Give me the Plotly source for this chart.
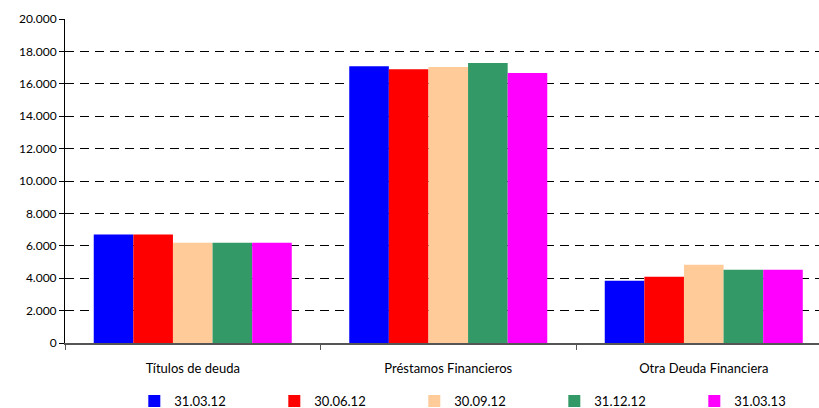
import plotly.graph_objects as go

categories = ["Títulos de deuda", "Préstamos Financieros", "Otra Deuda Financiera"]
series_names = ["31.03.12", "30.06.12", "30.09.12", "31.12.12", "31.03.13"]
s_310312 = [6690, 17090, 3840]
s_300612 = [6690, 16900, 4090]
s_300912 = [6190, 17030, 4830]
s_311212 = [6190, 17280, 4520]
s_310313 = [6190, 16660, 4520]
series_values = [s_310312, s_300612, s_300912, s_311212, s_310313]
colors = ["#0000FF", "#FF0000", "#FFCC99", "#339966", "#FF00FF"]
y_tickvals = [0, 2000, 4000, 6000, 8000, 10000, 12000, 14000, 16000, 18000, 20000]
y_ticktext = ["0", "2.000", "4.000", "6.000", "8.000", "10.000", "12.000", "14.000", "16.000", "18.000", "20.000"]

fig = go.Figure()
for name, vals, c in zip(series_names, series_values, colors):
    fig.add_trace(go.Bar(x=categories, y=vals, name=name, marker=dict(color=c, line=dict(width=0))))

fig.update_layout(
    width=819, height=408,
    margin=dict(l=65, r=0, t=19, b=65, autoexpand=False),
    paper_bgcolor="white", plot_bgcolor="white",
    font=dict(family="Lato, 'Open Sans', sans-serif", size=12, color="black"),
    barmode="group", bargap=0.225, bargroupgap=0,
    showlegend=True,
    legend=dict(orientation="h", xref="container", yref="container",
                x=0.164, xanchor="left", y=0.017, yanchor="middle",
                entrywidth=95, entrywidthmode="pixels", itemwidth=30,
                font=dict(size=13), bgcolor="rgba(0,0,0,0)"),
)
fig.update_xaxes(
    range=[-0.5, 2.451], showgrid=False, showline=True, linecolor="#555555", linewidth=2,
    ticks="outside", tickson="boundaries", ticklen=5, tickcolor="#555555",
    ticklabelstandoff=12, tickfont=dict(size=13), automargin=False,
)
fig.update_yaxes(
    range=[0, 20000], tickvals=y_tickvals, ticktext=y_ticktext,
    showline=True, linecolor="black", linewidth=1,
    ticks="outside", ticklen=5, tickcolor="black",
    showgrid=True, gridcolor="black", gridwidth=1, griddash="9px,6px",
    zeroline=False, tickfont=dict(size=12), automargin=False,
)
fig.write_html("out.html")
